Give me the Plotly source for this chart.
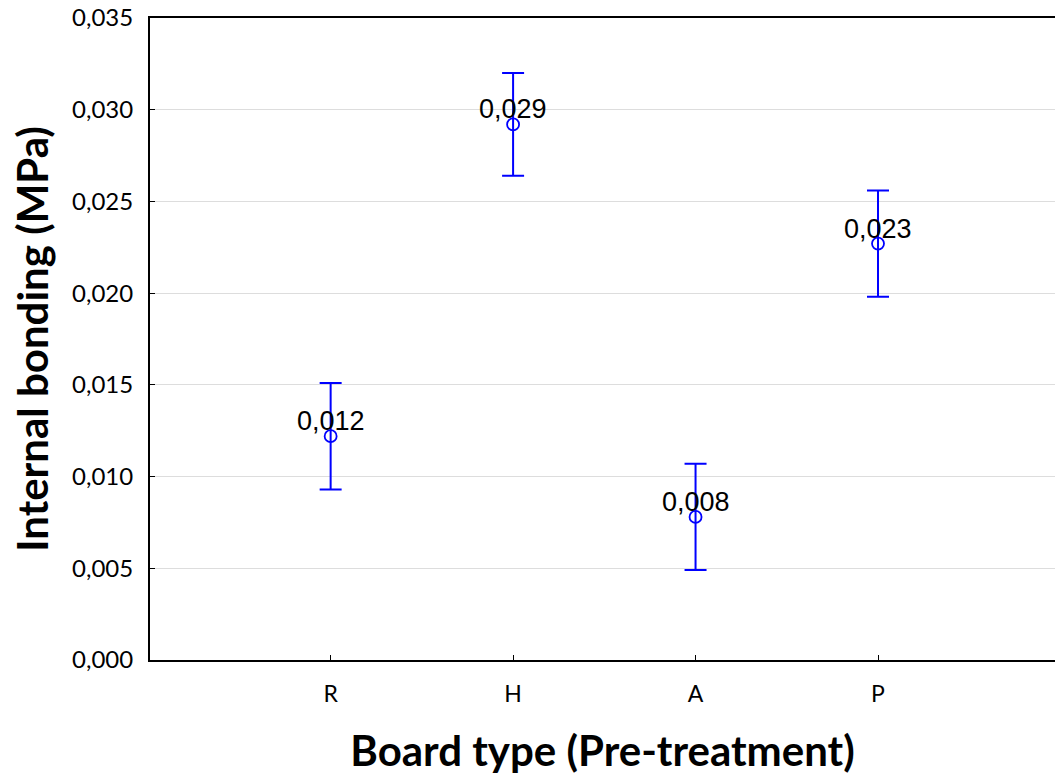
import plotly.graph_objects as go

categories = ["R", "H", "A", "P"]
means = [0.0122, 0.0292, 0.0078, 0.0227]
errors = [0.0029, 0.0028, 0.0029, 0.0029]
labels = ["0,012", "0,029", "0,008", "0,023"]
y_ticks = [0.0, 0.005, 0.010, 0.015, 0.020, 0.025, 0.030, 0.035]

xs = list(range(len(categories)))

fig = go.Figure()
fig.add_trace(
    go.Scatter(
        x=xs,
        y=means,
        mode="markers",
        marker=dict(symbol="circle-open", size=12, color="blue", line=dict(width=1.8)),
        error_y=dict(type="data", array=errors, color="blue", thickness=2, width=11),
        showlegend=False,
    )
)

# value labels sit just above each mean, overlapping the marker slightly
for x, y, lab in zip(xs, means, labels):
    fig.add_annotation(
        x=x, y=y, text=lab, showarrow=False,
        yanchor="middle", yshift=15,
        font=dict(family="Liberation Sans, Arial", size=27, color="black"),
    )

fig.update_layout(
    width=1055,
    height=775,
    separators=",.",
    plot_bgcolor="white",
    paper_bgcolor="white",
    margin=dict(l=150, r=0, t=18, b=115),
    font=dict(family="Lato, Open Sans", color="black"),
    xaxis=dict(
        range=[-0.99, 3.97],
        tickmode="array",
        tickvals=xs,
        ticktext=categories,
        ticks="inside",
        ticklen=5,
        tickcolor="black",
        tickfont=dict(size=23),
        ticklabelstandoff=12,
        showline=True,
        linecolor="black",
        linewidth=2,
        mirror=True,
        showgrid=False,
        zeroline=False,
        automargin=False,
        title=dict(text="<b>Board type (Pre-treatment)</b>", font=dict(size=42), standoff=36),
    ),
    yaxis=dict(
        range=[0, 0.035],
        tickmode="array",
        tickvals=y_ticks,
        tickformat=".3f",
        ticks="inside",
        ticklen=5,
        tickcolor="black",
        tickfont=dict(size=24),
        ticklabelstandoff=10,
        ticklabeloverflow="allow",
        showline=True,
        linecolor="black",
        linewidth=2,
        showgrid=True,
        gridcolor="#dddddd",
        gridwidth=1,
        zeroline=False,
        automargin=False,
        title=dict(text="<b>Internal bonding (MPa)</b>", font=dict(size=42), standoff=10),
    ),
)

# drop the default page margin so the figure fills the window exactly
fig.write_html(
    "out.html",
    config={"displayModeBar": False},
    post_script="document.body.style.margin='0';",
)
